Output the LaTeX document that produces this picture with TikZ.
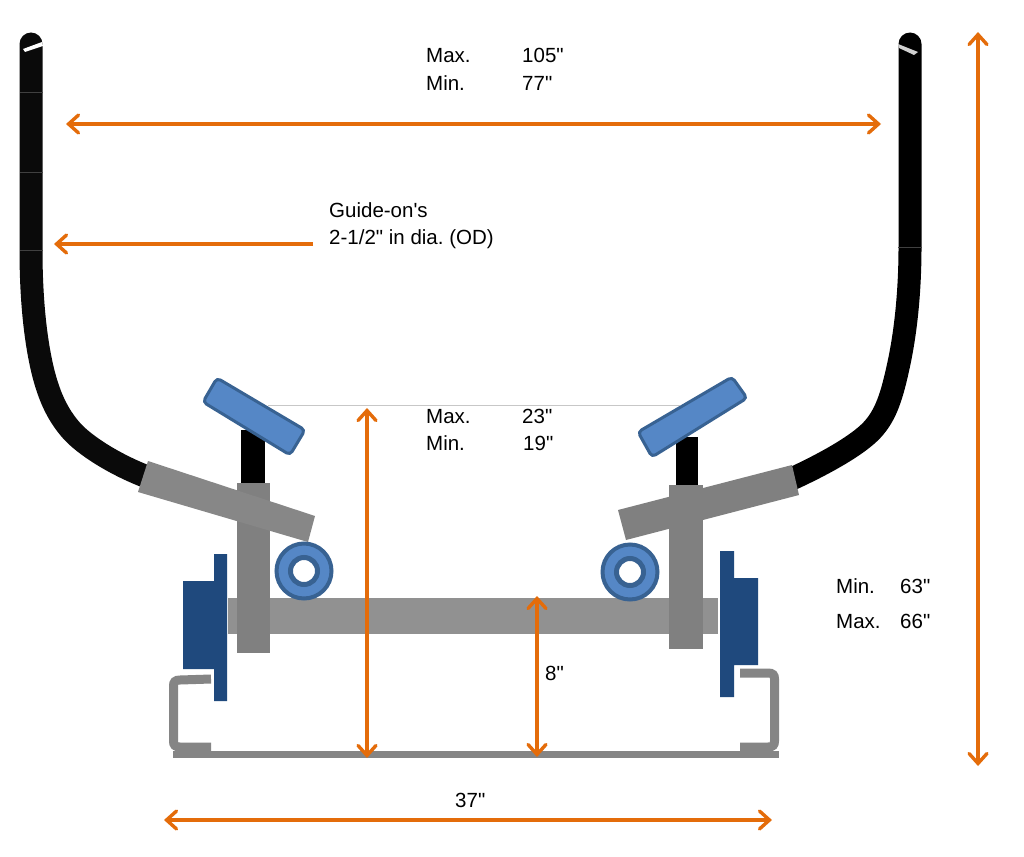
\documentclass[tikz,border=0pt]{standalone}
\usepackage{fontspec}
\newfontfamily\lab{Liberation Sans}
\usetikzlibrary{arrows.meta}
\definecolor{dim}{HTML}{E46C0A}
\definecolor{navy}{HTML}{1F497D}
\definecolor{padfill}{HTML}{5587C6}
\definecolor{padline}{HTML}{386292}
\definecolor{chan}{HTML}{858585}
\tikzset{
  barb/.tip={Straight Barb[length=10pt,width=18pt,line cap=round]},
  dimline/.style={draw=dim,line width=3.4pt,barb-barb},
  dimhead/.style={draw=dim,line width=3.4pt,-barb},
  lbl/.style={font=\lab\fontsize{20.5}{22}\selectfont\frenchspacing,anchor=base west,inner sep=0pt,text=black},
  pole/.style={draw=#1,line width=23pt,line cap=round,line join=round},
  seam/.style={draw=#1,line width=0.7pt},
  stem/.style={fill=black},
  pad/.style={draw=padline,fill=padfill,line width=3pt,rounded corners=4pt},
  channel/.style={draw=chan,line width=9pt},
}
\begin{document}
\begin{tikzpicture}[x=1pt,y=-1pt]
\useasboundingbox (0,0) rectangle (1024,856);
\fill[white] (0,0) rectangle (1024,856);

% guide poles
\draw[pole=black!96] (31,44) -- (31,250) .. controls (31,290) and (34,330) .. (41,363)
  .. controls (48,396) and (58,415) .. (71,430)
  .. controls (84,445) and (115,465) .. (150,478);
\draw[pole=black] (910,44) -- (910,247) .. controls (910,290) and (906,330) .. (899,363)
  .. controls (892,396) and (886,415) .. (872,430)
  .. controls (858,445) and (825,464) .. (785,482);
\fill[white] (23,49) -- (42,42) -- (43,46) -- (25,52) -- cycle;
\fill[black!18] (898,44) -- (918,52) -- (914,55) -- (899,48) -- cycle;
\draw[seam=black!75] (20,92) -- (43,92);
\draw[seam=black!75] (20,172) -- (43,172);
\draw[seam=black!75] (20,250) -- (43,250);
\draw[seam=black!75] (898,247) -- (922,247);

% stems
\fill[stem] (241,430) rectangle (265,486);
\fill[stem] (676,437) rectangle (698,487);

% padded bunks
\draw[pad] (217,378) -- (305,430) -- (290,455) -- (203,402) -- cycle;
\draw[pad] (732,377) -- (747,398) -- (652,457) -- (638,432) -- cycle;

% thin level line
\draw[draw=black!22,line width=0.8pt] (268,405) -- (680,405);

% axle and uprights
\fill[black!43] (228,598) rectangle (718,634);
\fill[black!50] (237,483) rectangle (270,653);
\fill[black!50] (669,485) rectangle (703,649);

% sleeves
\fill[black!47] (148,461) -- (315,516) -- (308,542) -- (138,492) -- cycle;
\fill[black!50] (792,465) -- (799,495) -- (626,540) -- (618,510) -- cycle;

% rollers
\fill[padfill,draw=padline,line width=4pt] (304,571) circle (27.5);
\fill[white,draw=padline,line width=5pt] (304,571) circle (13.5);
\fill[padfill,draw=padline,line width=4pt] (630,572) circle (27.5);
\fill[white,draw=padline,line width=5pt] (630,572) circle (13.5);

% hubs
\fill[navy] (214,554) -- (227,554) -- (227,701) -- (214,701) -- (214,669) -- (183,669) -- (183,581) -- (214,581) -- cycle;
\fill[navy] (720,551) -- (734,551) -- (734,578) -- (758,578) -- (758,665) -- (734,665) -- (734,697) -- (720,697) -- cycle;

% frame channels
\fill[chan] (173,751) rectangle (779,758);
\draw[channel] (211,679) -- (180,680) .. controls (175,680) and (173.5,682) .. (173.5,686)
  -- (173.5,741) .. controls (173.5,745) and (175,747) .. (180,747) -- (211,747);
\draw[channel] (740,673) -- (768,673) .. controls (773,673) and (774.5,675) .. (774.5,679)
  -- (774.5,741) .. controls (774.5,745) and (773,747) .. (768,747) -- (740,747);

% dimension ends
\coordinate (wl) at (66,124);
\coordinate (wr) at (881,124);
\coordinate (gs) at (313,244);
\coordinate (ge) at (54,244);
\coordinate (ht) at (367,408);
\coordinate (hb) at (367,758);
\coordinate (ct) at (537,596);
\coordinate (cb) at (537,757);
\coordinate (bl) at (164,820);
\coordinate (br) at (772,820);
\coordinate (ot) at (978,32);
\coordinate (ob) at (978,766);
\draw[dimline] (wl) -- (wr);
\draw[dimhead] (gs) -- (ge);
\draw[dimline] (ht) -- (hb);
\draw[dimline] (ct) -- (cb);
\draw[dimline] (bl) -- (br);
\draw[dimline] (ot) -- (ob);

% labels
\node[lbl] (t1) at (426,63) {Max.};
\node[lbl] (t2) at (522,63) {105"};
\node[lbl] (t3) at (426,91) {Min.};
\node[lbl] (t4) at (522,91) {77"};
\node[lbl] (t5) at (329,217) {Guide-on's};
\node[lbl] (t6) at (329,244) {2-1/2" in dia. (OD)};
\node[lbl] (t7) at (426,423) {Max.};
\node[lbl] (t8) at (522,423) {23"};
\node[lbl] (t9) at (426,450) {Min.};
\node[lbl] (t10) at (523,450) {19"};
\node[lbl] (t11) at (836,593) {Min.};
\node[lbl] (t12) at (900,593) {63"};
\node[lbl] (t13) at (836,628) {Max.};
\node[lbl] (t14) at (900,628) {66"};
\node[lbl] (t15) at (545,680) {8"};
\node[lbl] (t16) at (455,807) {37"};
\end{tikzpicture}
\end{document}
